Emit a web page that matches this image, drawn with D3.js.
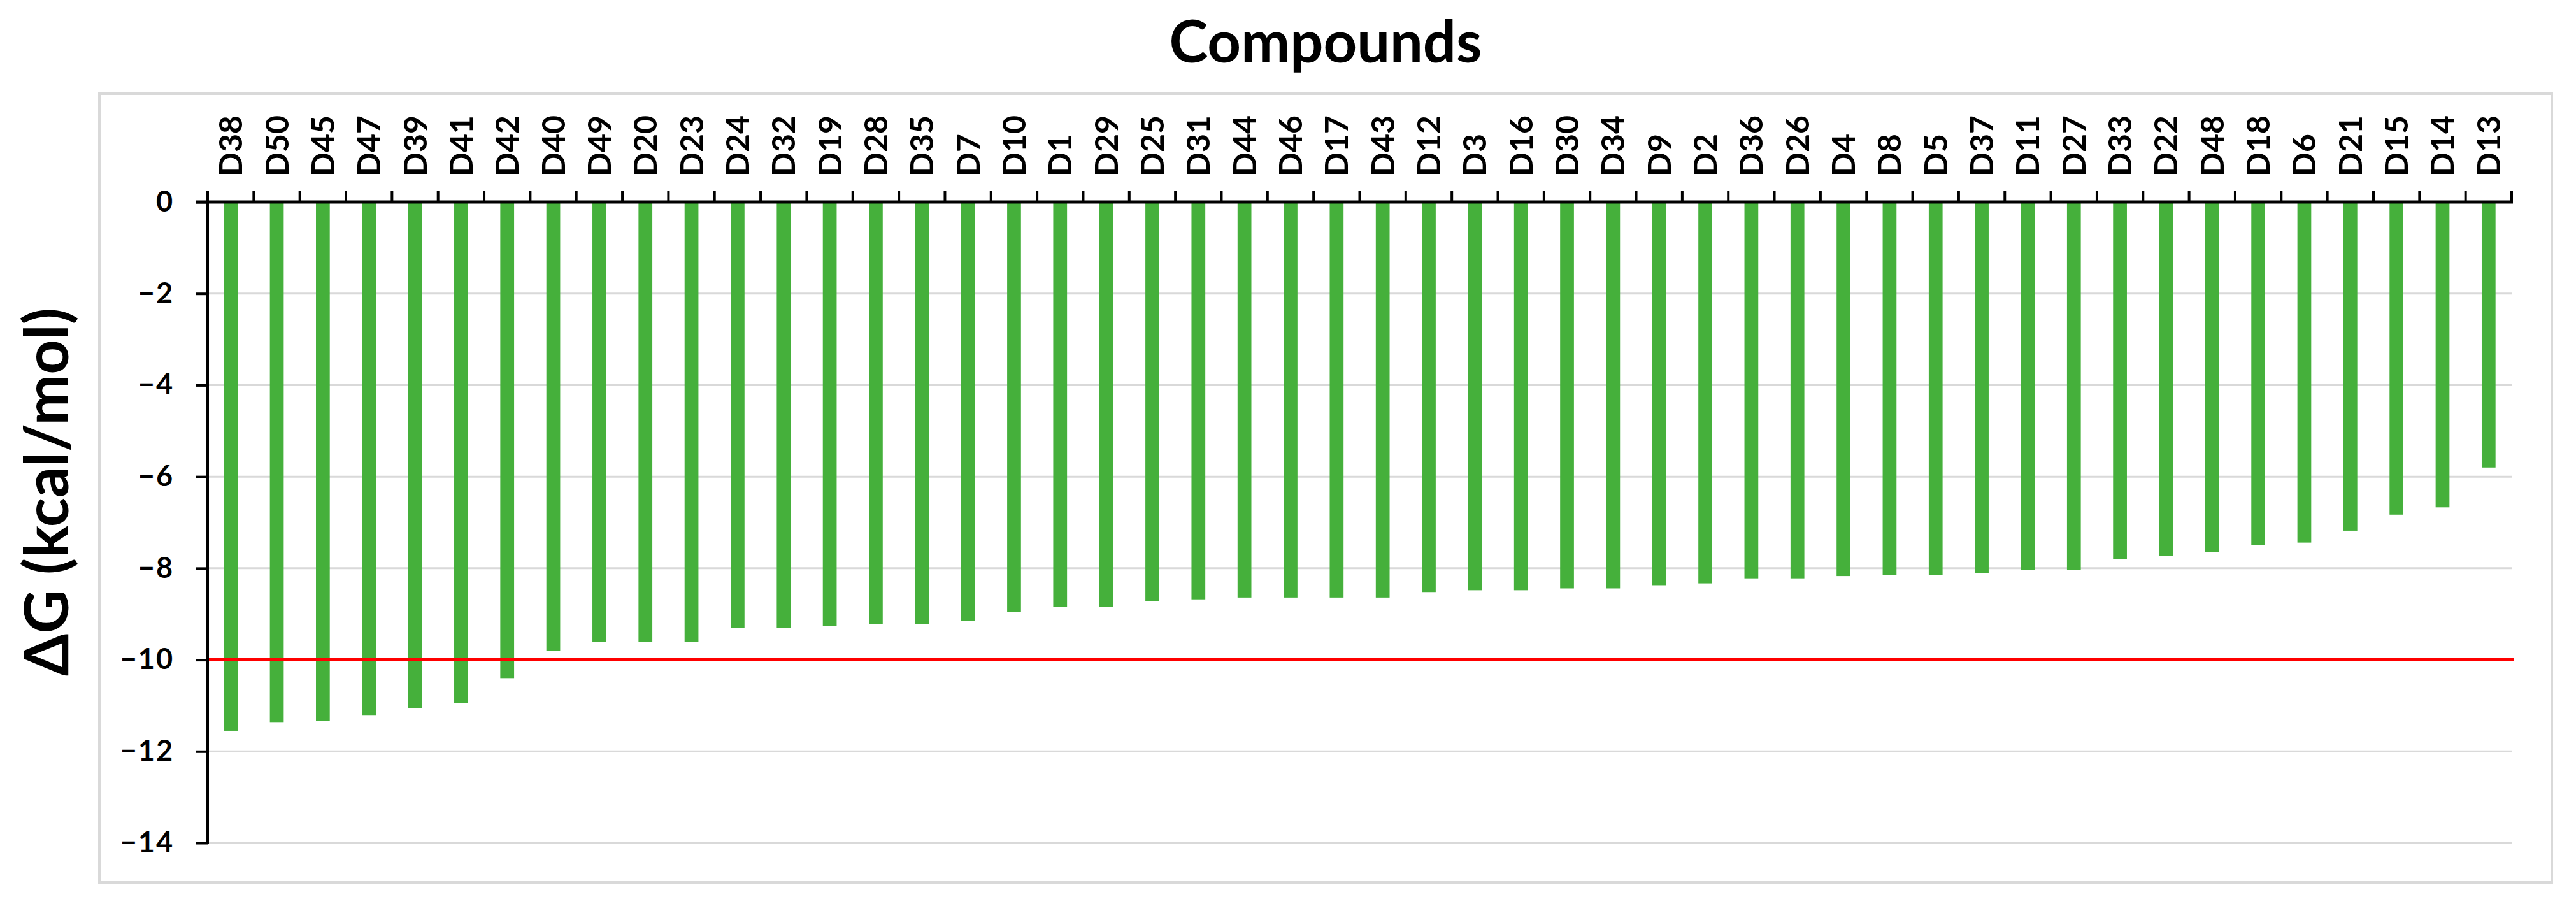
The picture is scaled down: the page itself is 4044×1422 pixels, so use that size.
<!DOCTYPE html>
<html>
<head>
<meta charset="utf-8">
<script src="https://cdn.jsdelivr.net/npm/d3@7"></script>
<style>
  html, body { margin: 0; padding: 0; background: #ffffff; }
  svg { display: block; }
  text { font-family: Lato, "Liberation Sans", "DejaVu Sans", sans-serif; font-weight: 700; fill: #000; }
</style>
</head>
<body>
<script>
// ---- data ----
const categories = ["D38","D50","D45","D47","D39","D41","D42","D40","D49","D20","D23","D24","D32","D19","D28","D35","D7","D10","D1","D29","D25","D31","D44","D46","D17","D43","D12","D3","D16","D30","D34","D9","D2","D36","D26","D4","D8","D5","D37","D11","D27","D33","D22","D48","D18","D6","D21","D15","D14","D13"];
const deltaG = [-11.55,-11.36,-11.33,-11.22,-11.06,-10.95,-10.40,-9.80,-9.61,-9.61,-9.61,-9.30,-9.30,-9.26,-9.22,-9.22,-9.15,-8.96,-8.84,-8.84,-8.72,-8.68,-8.64,-8.64,-8.64,-8.64,-8.52,-8.48,-8.48,-8.44,-8.44,-8.37,-8.33,-8.22,-8.22,-8.17,-8.15,-8.15,-8.10,-8.03,-8.03,-7.80,-7.73,-7.65,-7.49,-7.44,-7.18,-6.83,-6.67,-5.80];
const yTicks = [0,-2,-4,-6,-8,-10,-12,-14];
const threshold = -10;
const xTitle = "Compounds";
const yTitle = "ΔG (kcal/mol)";

// ---- layout ----
const W = 4044, H = 1422;
const plot = { left: 326, right: 3943, top: 317, bottom: 1323 };

const svg = d3.select("body").append("svg").attr("width", W).attr("height", H);
svg.append("rect").attr("width", W).attr("height", H).attr("fill", "#ffffff");

// chart frame
svg.append("rect")
  .attr("x", 156).attr("y", 147).attr("width", 4006 - 156).attr("height", 1385 - 147)
  .attr("fill", "none").attr("stroke", "#d9d9d9").attr("stroke-width", 4);

const x = d3.scaleBand().domain(categories).range([plot.left, plot.right])
  .paddingInner(0.7).paddingOuter(0.35);
const y = d3.scaleLinear().domain([0, -14]).range([plot.top, plot.bottom]);

// gridlines
svg.append("g").selectAll("line").data(yTicks.filter(d => d !== 0)).join("line")
  .attr("x1", plot.left).attr("x2", plot.right)
  .attr("y1", d => y(d)).attr("y2", d => y(d))
  .attr("stroke", "#d9d9d9").attr("stroke-width", 3);

// bars
svg.append("g").selectAll("rect").data(categories.map((c, i) => ({ c, v: deltaG[i] }))).join("rect")
  .attr("x", d => x(d.c))
  .attr("width", x.bandwidth())
  .attr("y", y(0))
  .attr("height", d => y(d.v) - y(0))
  .attr("fill", "#45b03b");

// threshold line
svg.append("line")
  .attr("x1", plot.left).attr("x2", plot.right + 4)
  .attr("y1", y(threshold)).attr("y2", y(threshold))
  .attr("stroke", "#ff0000").attr("stroke-width", 5);

// y axis
const yAxis = d3.axisLeft(y).tickValues(yTicks).tickSize(19).tickPadding(34).tickFormat(d3.format("d"));
const gy = svg.append("g").attr("transform", `translate(${plot.left},0)`).call(yAxis);
gy.select(".domain").remove();
gy.selectAll(".tick line").attr("stroke", "#000").attr("stroke-width", 4);
gy.selectAll(".tick text").attr("font-size", 45).attr("font-family", null).style("letter-spacing", "2px");
svg.append("line")
  .attr("x1", plot.left).attr("x2", plot.left)
  .attr("y1", y(0)).attr("y2", y(-14) + 2)
  .attr("stroke", "#000").attr("stroke-width", 4);

// x axis (top, at zero)
svg.append("line")
  .attr("x1", plot.left - 19).attr("x2", plot.right + 2)
  .attr("y1", y(0)).attr("y2", y(0))
  .attr("stroke", "#000").attr("stroke-width", 5);
const boundaries = d3.range(categories.length + 1).map(i => plot.left + i * x.step());
svg.append("g").selectAll("line").data(boundaries).join("line")
  .attr("x1", d => d).attr("x2", d => d)
  .attr("y1", y(0)).attr("y2", y(0) - 18)
  .attr("stroke", "#000").attr("stroke-width", 4);

// category labels (rotated)
svg.append("g").selectAll("text").data(categories).join("text")
  .attr("transform", d => `translate(${x(d) + x.bandwidth() / 2},277) rotate(-90)`)
  .attr("text-anchor", "start")
  .attr("dy", "0.36em")
  .attr("font-size", 50)
  .text(d => d);

// titles: fit to the measured length of the reference text
function fitText(sel, base, target) {
  sel.attr("font-size", base);
  const L = sel.node().getComputedTextLength();
  if (L > 0) sel.attr("font-size", base * target / L);
}

const tX = svg.append("text")
  .attr("x", 2081).attr("y", 98)
  .attr("text-anchor", "middle")
  .text(xTitle);
fitText(tX, 90, 491);

const tY = svg.append("text")
  .attr("transform", "translate(107,772) rotate(-90)")
  .attr("text-anchor", "middle")
  .text(yTitle);
fitText(tY, 96, 578);
</script>
</body>
</html>
